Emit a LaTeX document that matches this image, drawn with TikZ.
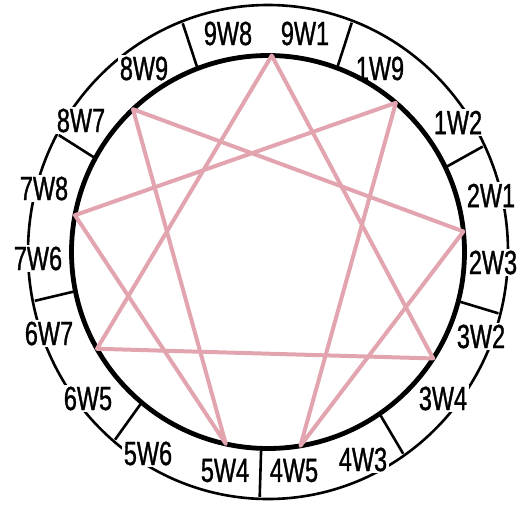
\documentclass[tikz,border=0pt]{standalone}
\usepackage{fontspec}
\setmainfont{Liberation Sans}[FakeStretch=0.7, FakeBold=1]
\usepackage{xcolor}
\usepackage{tikz}
\usetikzlibrary{calc}

\definecolor{flowpink}{RGB}{226,165,175}

\begin{document}
\begin{tikzpicture}[
x=1pt, y=1pt,
ring/.style={line width=4.8pt},
rim/.style={line width=2.6pt},
divider/.style={line width=2.6pt},
wing/.style={fill=white, inner sep=2pt, font=\fontsize{33.5}{33.5}\selectfont},
flow/.style={draw=flowpink, line width=4pt, line join=round}
]
\useasboundingbox (-268,-252) rectangle (250,252);

% outer rim
\draw[rim] (0,0) ellipse [x radius=240pt, y radius=247pt];

% wing labels
\node[wing] (w98) at (-40,218.5) {9W8};
\node[wing] (w91) at (37,218.5) {9W1};
\node[wing] (w19) at (112,183.5) {1W9};
\node[wing] (w12) at (190,129.5) {1W2};
\node[wing] (w21) at (223,56.5) {2W1};
\node[wing] (w23) at (225,-10.5) {2W3};
\node[wing] (w32) at (213,-84.5) {3W2};
\node[wing] (w34) at (175,-146.5) {3W4};
\node[wing] (w43) at (95,-207.5) {4W3};
\node[wing] (w45) at (26,-218.5) {4W5};
\node[wing] (w54) at (-43,-218.5) {5W4};
\node[wing] (w56) at (-120,-201.5) {5W6};
\node[wing] (w65) at (-180,-146.5) {6W5};
\node[wing] (w67) at (-219,-81.5) {6W7};
\node[wing] (w76) at (-230,-6.5) {7W6};
\node[wing] (w78) at (-224,63.5) {7W8};
\node[wing] (w87) at (-187,131.5) {8W7};
\node[wing] (w89) at (-124,183.5) {8W9};

% dividers between types
\draw[divider] (111:196.5) -- (111:238 and 245);
\draw[divider] (69.4:196.5) -- (69.4:238 and 245);
\draw[divider] (25.5:196.5) -- (25.5:238 and 245);
\draw[divider] (-14.5:196.5) -- (-14.5:238 and 245);
\draw[divider] (-55.4:196.5) -- (-55.4:238 and 245);
\draw[divider] (-92:196.5) -- (-92:238 and 245);
\draw[divider] (-130:196.5) -- (-130:238 and 245);
\draw[divider] (191.5:196.5) -- (191.5:238 and 245);
\draw[divider] (151.5:196.5) -- (151.5:238 and 245);

% the nine points
\coordinate (p9) at (88.9:196.5);
\coordinate (p1) at (49.4:196.5);
\coordinate (p2) at (6.0:196.5);
\coordinate (p3) at (-32.8:196.5);
\coordinate (p4) at (-80.5:196.5);
\coordinate (p5) at (-102.4:196.5);
\coordinate (p6) at (-150.5:196.5);
\coordinate (p7) at (169.2:196.5);
\coordinate (p8) at (133.4:196.5);

\draw[ring] (0,0) circle [radius=196.5pt];

\draw[flow] (p9) -- (p3) -- (p6) -- cycle;
\draw[flow] (p1) -- (p4) -- (p2) -- (p8) -- (p5) -- (p7) -- cycle;
\end{tikzpicture}
\end{document}
